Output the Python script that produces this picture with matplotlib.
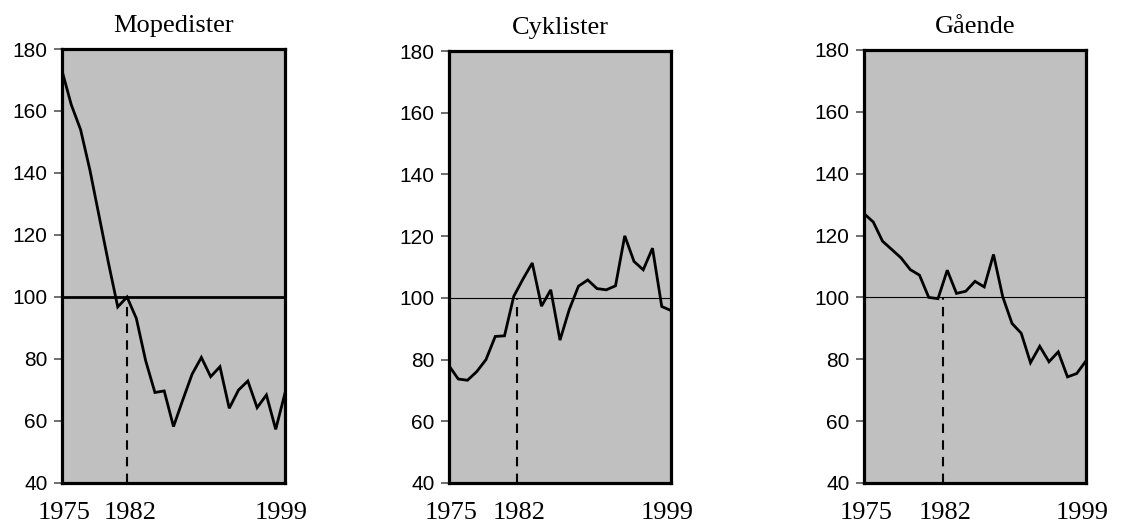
import matplotlib
matplotlib.use("Agg")
import matplotlib.pyplot as plt

years = list(range(1975, 2000))

mopedister = [173, 162, 154, 141, 126, 111, 96.8, 100, 93.1, 79.5, 69.2, 69.7, 58.2,
              66.8, 75.1, 80.5, 74.3, 77.5, 64.1, 70.0, 72.9, 64.3, 68.4, 57.3, 69.0]
cyklister = [78.0, 73.7, 73.3, 76.1, 80.0, 87.5, 87.7, 100.5, 106.1, 111.3, 97.3, 102.6,
             86.3, 96.2, 103.8, 105.8, 103.0, 102.6, 103.9, 120.1, 111.8, 109.1, 116.1,
             97.2, 95.9]
gaende = [127.1, 124.4, 118.2, 115.5, 112.8, 109.0, 107.2, 100.0, 99.6, 108.8, 101.3,
          102.0, 105.2, 103.4, 113.9, 100.2, 91.6, 88.4, 78.9, 84.2, 79.2, 82.4, 74.3,
          75.4, 79.5]

titles = ["Mopedister", "Cyklister", "Gående"]
series = [mopedister, cyklister, gaende]
yticks = [40, 60, 80, 100, 120, 140, 160, 180]
xtick_labels = ["1975", "1982", "1999"]
base_level = 100
# position of the dashed reference line / "1982" label as drawn in each panel
ref_x = [1982.0, 1982.3, 1983.5]

W, H = 1126, 523
fig = plt.figure(figsize=(W / 100, H / 100), dpi=100)

# axes boxes in pixels: left, right, top, bottom
boxes = [(62, 285, 49, 483), (449, 671, 51, 483), (864, 1086, 50, 483)]
ref_lw = [2.0, 0.8, 0.8]

for i, (title, vals) in enumerate(zip(titles, series)):
    l, r, t, b = boxes[i]
    ax = fig.add_axes([l / W, 1 - b / H, (r - l) / W, (b - t) / H])
    ax.set_facecolor("#C0C0C0")
    ax.set_xlim(1975, 1999)
    ax.set_ylim(40, 180)
    ax.axhline(base_level, color="black", lw=ref_lw[i], zorder=2)
    ax.plot([ref_x[i], ref_x[i]], [40, base_level], color="black", lw=1.5,
            ls=(0, (4.5, 3.5)), zorder=2)
    ax.plot(years, vals, color="black", lw=2.0, zorder=3, solid_joinstyle="miter")
    for s in ax.spines.values():
        s.set_linewidth(2.3)
        s.set_color("black")
    ax.set_yticks(yticks)
    ax.set_yticklabels([str(v) for v in yticks], fontfamily="Liberation Sans",
                       fontsize=15)
    ax.tick_params(axis="y", direction="out", length=5.5, width=1.2, color="#555555",
                   pad=5)
    ax.set_xticks([1975.2, ref_x[i] + 0.3, 1998.6])
    ax.set_xticklabels(xtick_labels, fontfamily="Liberation Serif", fontsize=19)
    ax.tick_params(axis="x", length=0, pad=14)
    ax.set_title(title, fontfamily="Liberation Serif", fontsize=19, pad=12)

fig.savefig("out.png", dpi=100)
